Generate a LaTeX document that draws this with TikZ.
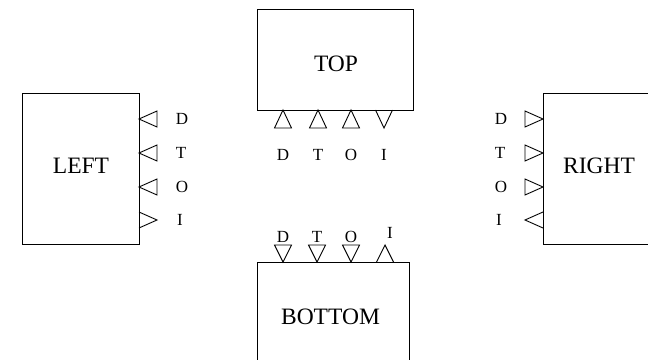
\documentclass[tikz,border=0pt]{standalone}
\usepackage{fontspec}
\setmainfont{Liberation Serif}
\begin{document}
\begin{tikzpicture}[x=1pt,y=-1pt,
  box/.style={draw, line width=1pt, inner sep=0pt},
  title/.style={inner sep=0pt, font=\fontsize{23.5}{26}\selectfont},
  plabel/.style={inner sep=0pt, font=\fontsize{17}{20}\selectfont},
  port/.style={draw, line width=0.9pt, line join=miter}]
\clip (0,0) rectangle (648,359);
\fill[white] (0,0) rectangle (648,359);
% boxes
\node[box, minimum width=117pt, minimum height=151pt] (left) at (80.5,168.5) {};
\node[box, minimum width=156pt, minimum height=101pt] (top) at (335,59.5) {};
\node[box, minimum width=112pt, minimum height=151pt] (right) at (599,168.5) {};
\node[box, minimum width=152pt, minimum height=120pt] (bottom) at (333,322) {};
% titles
\node[title] (lefttxt) at (81,165.5) {LEFT};
\node[title] (toptxt) at (336,64) {TOP};
\node[title] (righttxt) at (599,166) {RIGHT};
\node[title] (bottomtxt) at (330.5,317) {BOTTOM};
% LEFT ports
\draw[port] (139,119) -- (157,111) -- (157,127) -- cycle;
\draw[port] (139,153) -- (157,145) -- (157,161) -- cycle;
\draw[port] (139,187) -- (157,179) -- (157,195) -- cycle;
\draw[port] (139,212) -- (157,220) -- (139,228);
\node[plabel] (lD) at (182,119) {D};
\node[plabel] (lT) at (181,153) {T};
\node[plabel] (lO) at (182,187) {O};
\node[plabel] (lI) at (180,220) {I};
% RIGHT ports
\draw[port] (543,119) -- (525,111) -- (525,127) -- cycle;
\draw[port] (543,153) -- (525,145) -- (525,161) -- cycle;
\draw[port] (543,187) -- (525,179) -- (525,195) -- cycle;
\draw[port] (543,212) -- (525,220) -- (543,228);
\node[plabel] (rD) at (501,119) {D};
\node[plabel] (rT) at (500,153) {T};
\node[plabel] (rO) at (501,187) {O};
\node[plabel] (rI) at (499,220) {I};
% TOP ports
\draw[port] (283,110) -- (274.5,128) -- (291.5,128) -- cycle;
\draw[port] (318,110) -- (309.5,128) -- (326.5,128) -- cycle;
\draw[port] (351,110) -- (342.5,128) -- (359.5,128) -- cycle;
\draw[port] (375.5,110) -- (384,128) -- (392.5,110);
\node[plabel] (tD) at (283,155) {D};
\node[plabel] (tT) at (318,155) {T};
\node[plabel] (tO) at (351,155) {O};
\node[plabel] (tI) at (384,155) {I};
% BOTTOM ports
\draw[port] (283,262) -- (274.5,245) -- (291.5,245) -- cycle;
\draw[port] (317,262) -- (308.5,245) -- (325.5,245) -- cycle;
\draw[port] (351,262) -- (342.5,245) -- (359.5,245) -- cycle;
\draw[port] (376.5,262) -- (385,245) -- (393.5,262);
\node[plabel] (bD) at (283,236.5) {D};
\node[plabel] (bT) at (317,236.5) {T};
\node[plabel] (bO) at (351,236.5) {O};
\node[plabel] (bI) at (390,233) {I};
\end{tikzpicture}
\end{document}
